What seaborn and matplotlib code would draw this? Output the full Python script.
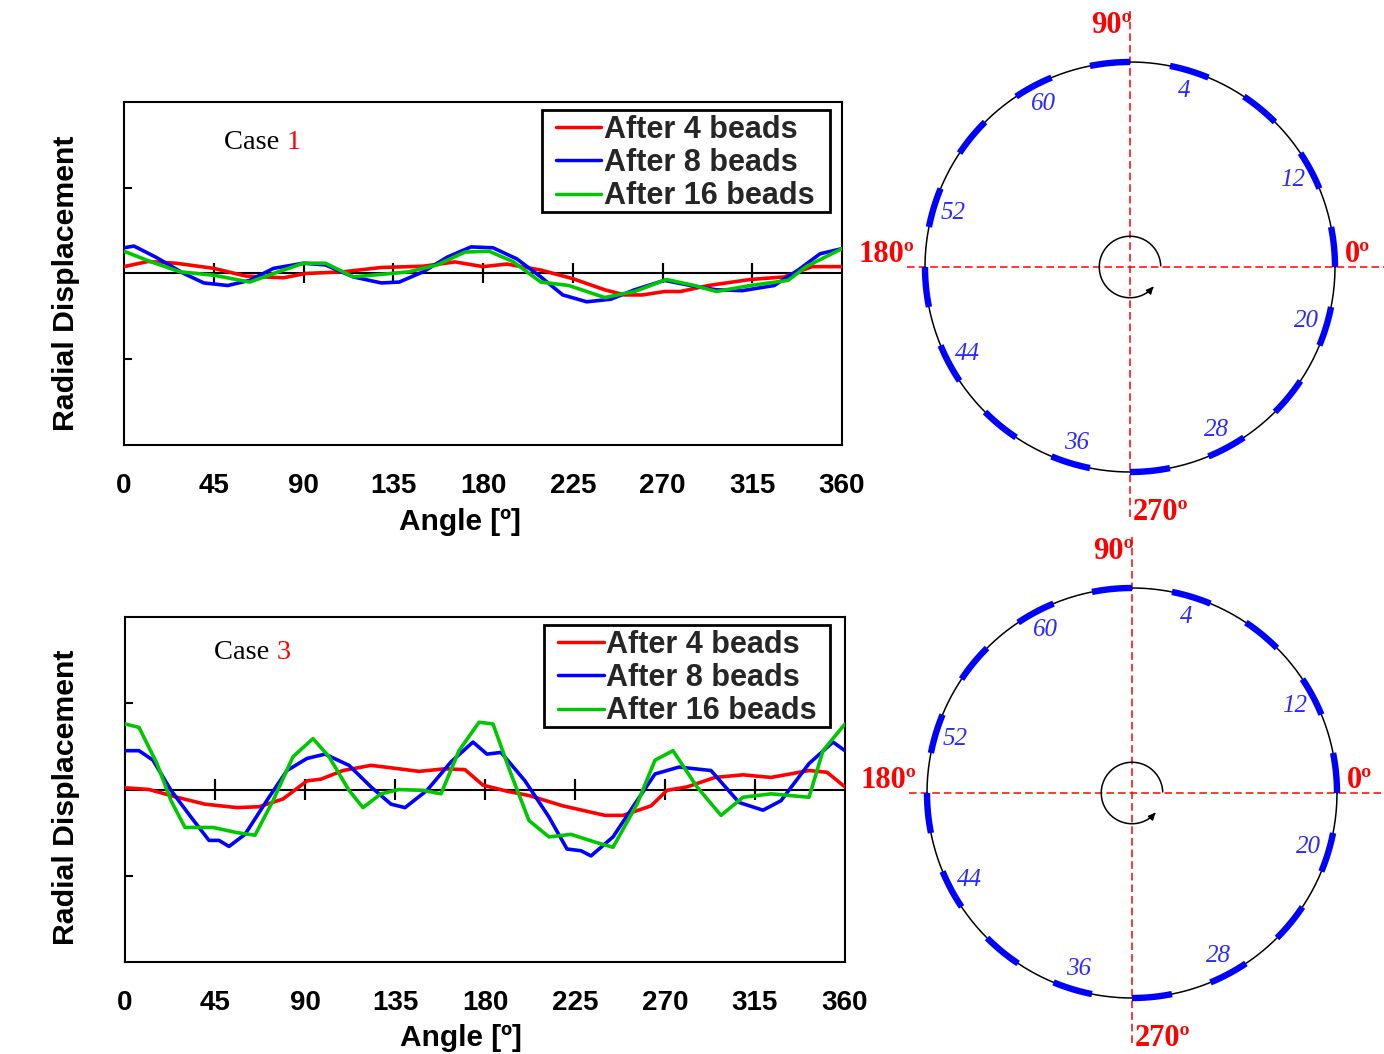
import numpy as np
import pandas as pd
import matplotlib
matplotlib.use("Agg")
import matplotlib.pyplot as plt
from matplotlib.lines import Line2D
from matplotlib.patches import Rectangle
from matplotlib.legend_handler import HandlerLine2D
import seaborn as sns

# ---------------- data ----------------
series_names = ["After 4 beads", "After 8 beads", "After 16 beads"]
series_colors = ["#ff0000", "#0000ff", "#00c800"]
angle_ticks = [0, 45, 90, 135, 180, 225, 270, 315, 360]
inner_ticks = [45, 90, 135, 180, 225, 270, 315]

# Case 1
c1_red_angle = [0, 12, 26, 45, 61, 80, 91, 110, 129, 150, 166, 180, 192, 209, 225, 241, 251, 260, 271, 279, 293, 314, 331, 345, 360]
c1_red_disp = [0.08, 0.14, 0.12, 0.06, -0.03, -0.05, 0.0, 0.02, 0.07, 0.085, 0.135, 0.08, 0.11, 0.04, -0.06, -0.19, -0.25, -0.25, -0.21, -0.21, -0.14, -0.07, -0.04, 0.08, 0.08]
c1_blue_angle = [0, 5, 16, 30, 40, 52, 63, 75, 90, 101, 115, 129, 138, 150, 162, 174, 185, 197, 209, 220, 232, 244, 256, 271, 284, 297, 310, 326, 338, 349, 360]
c1_blue_disp = [0.30, 0.32, 0.19, 0.0, -0.11, -0.14, -0.08, 0.06, 0.12, 0.10, -0.04, -0.11, -0.10, 0.02, 0.19, 0.31, 0.30, 0.17, -0.04, -0.25, -0.33, -0.30, -0.19, -0.08, -0.14, -0.19, -0.20, -0.14, 0.04, 0.23, 0.29]
c1_green_angle = [0, 12, 28, 45, 63, 75, 90, 101, 115, 129, 143, 157, 171, 183, 195, 209, 223, 241, 256, 272, 286, 297, 314, 333, 342, 360]
c1_green_disp = [0.26, 0.15, 0.02, -0.02, -0.10, 0.0, 0.12, 0.12, -0.04, -0.01, 0.02, 0.10, 0.25, 0.26, 0.14, -0.10, -0.14, -0.28, -0.21, -0.07, -0.14, -0.21, -0.14, -0.08, 0.08, 0.29]

# Case 3
c3_red_angle = [0, 12, 26, 40, 56, 67, 79, 91, 98, 109, 123, 137, 147, 160, 170, 179, 191, 202, 219, 240, 249, 263, 271, 281, 295, 309, 323, 342, 351, 360]
c3_red_disp = [0.02, 0.0, -0.09, -0.17, -0.21, -0.20, -0.11, 0.10, 0.12, 0.22, 0.28, 0.24, 0.21, 0.24, 0.23, 0.05, -0.02, -0.07, -0.19, -0.30, -0.30, -0.19, -0.01, 0.03, 0.14, 0.17, 0.14, 0.22, 0.20, 0.03]
c3_blue_angle = [0, 7, 14, 23, 33, 42, 47, 52, 60, 72, 81, 91, 100, 112, 123, 133, 140, 151, 163, 174, 181, 188, 200, 212, 221, 228, 233, 244, 256, 265, 277, 293, 307, 319, 328, 342, 354, 360]
c3_blue_disp = [0.45, 0.45, 0.34, -0.01, -0.32, -0.59, -0.59, -0.66, -0.52, -0.09, 0.22, 0.36, 0.41, 0.28, 0.03, -0.17, -0.21, -0.01, 0.32, 0.55, 0.41, 0.43, 0.10, -0.32, -0.69, -0.71, -0.77, -0.55, -0.13, 0.18, 0.26, 0.22, -0.15, -0.24, -0.13, 0.30, 0.55, 0.45]
c3_green_angle = [0, 7, 16, 23, 30, 44, 56, 65, 74, 84, 94, 102, 112, 119, 128, 137, 149, 158, 167, 177, 184, 193, 202, 212, 223, 235, 244, 256, 265, 274, 286, 298, 309, 323, 342, 349, 360]
c3_green_disp = [0.76, 0.72, 0.30, -0.13, -0.44, -0.44, -0.50, -0.53, -0.13, 0.38, 0.59, 0.38, -0.01, -0.21, -0.05, 0.0, -0.01, -0.05, 0.45, 0.78, 0.76, 0.18, -0.36, -0.55, -0.52, -0.61, -0.67, -0.17, 0.34, 0.45, 0.03, -0.30, -0.09, -0.05, -0.09, 0.45, 0.76]

# Welding bead sequence diagram
bead_arc_start = [0, 22.5, 45, 67.5, 90, 112.5, 135, 157.5, 180, 202.5, 225, 247.5, 270, 292.5, 315, 337.5]
bead_arc_span = 11.25
bead_label_numbers = [4, 12, 20, 28, 36, 44, 52, 60]
bead_label_angles = [73, 28, -17, -62, -107, -152, -197, -242]
direction_labels = ["0º", "90º", "180º", "270º"]

# ---------------- style ----------------
sns.set_theme(style="white")
plt.rcParams["font.family"] = ["Liberation Sans", "DejaVu Sans"]

W, H = 1384, 1054
fig = plt.figure(figsize=(W / 100, H / 100), dpi=100)


def px_axes(l, t, r, b):
    return fig.add_axes([l / W, 1 - b / H, (r - l) / W, (b - t) / H])


def make_df(angles, disps):
    frames = [pd.DataFrame({"Angle": a, "Disp": d, "Series": n})
              for n, a, d in zip(series_names, angles, disps)]
    return pd.concat(frames, ignore_index=True)


def line_panel(ax, df, leg_box, ylab_xy, xlab_xy):
    sns.lineplot(data=df, x="Angle", y="Disp", hue="Series", hue_order=series_names,
                 palette=dict(zip(series_names, series_colors)), estimator=None,
                 linewidth=2.6, ax=ax, zorder=3)
    ax.set_xlim(0, 360)
    ax.set_ylim(-2, 2)
    ax.axhline(0, color="black", lw=1.5, zorder=2)
    # ticks on the zero line
    sec = ax.secondary_xaxis(0.5)
    sec.set_xticks(inner_ticks)
    sec.tick_params(axis="x", direction="inout", length=14, width=1.5, color="black",
                    labelbottom=False, labeltop=False, bottom=True)
    for s in sec.spines.values():
        s.set_visible(False)
    ax.set_xticks(angle_ticks)
    ax.set_xticklabels([str(t) for t in angle_ticks], fontsize=20, fontweight="bold")
    ax.tick_params(axis="x", length=0, pad=20, colors="black")
    ax.set_yticks([-1, 1])
    ax.set_yticklabels([])
    ax.tick_params(axis="y", direction="in", length=6, width=1.5, left=True, color="black")
    for s in ax.spines.values():
        s.set_color("black")
        s.set_linewidth(1.5)
    ax.set_xlabel("Angle [º]", fontsize=21.5, fontweight="bold", color="black")
    ax.xaxis.set_label_coords(*xlab_xy)
    ax.set_ylabel("Radial Displacement", fontsize=21.8, fontweight="bold", color="black")
    ax.yaxis.set_label_coords(*ylab_xy)
    # legend frame
    x0, y0, x1, y1 = leg_box
    ax.add_patch(Rectangle((x0, y0), x1 - x0, y1 - y0, transform=ax.transAxes,
                           facecolor="white", edgecolor="black", lw=2, zorder=4))
    handles, labels = ax.get_legend_handles_labels()
    leg = ax.legend(handles, labels, loc="upper left", bbox_to_anchor=(x0, y1),
                    borderaxespad=0, frameon=False,
                    prop=dict(family="Liberation Sans", weight="bold", size=22),
                    handlelength=1.78, handletextpad=0.07, labelspacing=0.1, borderpad=0.17,
                    handler_map={Line2D: HandlerLine2D(xpad=0.3)})
    leg.set_zorder(6)
    for line in leg.get_lines():
        line.set_linewidth(2.5)
    return ax


def case_text(ax, xy, num):
    t1 = ax.text(xy[0], xy[1], "Case ", transform=ax.transAxes, fontsize=20.5,
                 family="Liberation Serif", color="black", ha="left", va="center")
    ax.annotate(str(num), xy=(1, 0), xycoords=t1, fontsize=20.5, family="Liberation Serif",
                color="red", ha="left", va="bottom")


ax1 = px_axes(124, 102, 842, 445)
line_panel(ax1, make_df([c1_red_angle, c1_blue_angle, c1_green_angle],
                        [c1_red_disp, c1_blue_disp, c1_green_disp]),
           (0.582, 0.679, 0.983, 0.977), (-0.061, 0.472), (0.468, -0.185))
case_text(ax1, (0.139, 0.883), 1)

ax2 = px_axes(125, 617, 845, 962)
line_panel(ax2, make_df([c3_red_angle, c3_blue_angle, c3_green_angle],
                        [c3_red_disp, c3_blue_disp, c3_green_disp]),
           (0.582, 0.681, 0.979, 0.977), (-0.062, 0.478), (0.467, -0.18))
case_text(ax2, (0.124, 0.896), 3)


def circle_panel(top, bottom, cx, cy, r=205.0):
    l, rr = 846, 1384
    ax = px_axes(l, top, rr, bottom)
    ax.set_xlim((l - cx) / r, (rr - cx) / r)
    ax.set_ylim((cy - bottom) / r, (cy - top) / r)
    ax.axis("off")
    ax.patch.set_alpha(0)
    th = np.linspace(0, 2 * np.pi, 500)
    ax.plot(np.cos(th), np.sin(th), color="black", lw=1.1, zorder=2)
    for a0 in bead_arc_start:
        t = np.radians(np.linspace(a0, a0 + bead_arc_span, 40))
        ax.plot(np.cos(t), np.sin(t), color="#0000ff", lw=4.6, solid_capstyle="butt", zorder=3)
    for n, a in zip(bead_label_numbers, bead_label_angles):
        ax.text(0.9 * np.cos(np.radians(a)), 0.9 * np.sin(np.radians(a)), str(n),
                ha="center", va="center", fontsize=18, fontstyle="italic",
                family="Liberation Serif", color="#2a2aff")
    ax.plot([0, 0], [-1.22, 1.25], color="red", lw=1.1, dashes=(5, 2.6), zorder=1)
    ax.plot([-1.09, 1.26], [0, 0], color="red", lw=1.1, dashes=(5, 2.6), zorder=1)
    # small rotation arrow
    rs = 0.15
    ta = np.radians(np.linspace(2, 318, 200))
    ax.plot(rs * np.cos(ta), rs * np.sin(ta), color="black", lw=1.1, zorder=4)
    e = np.radians(325)
    s = np.radians(312)
    ax.annotate("", xy=(rs * np.cos(e), rs * np.sin(e)), xytext=(rs * np.cos(s), rs * np.sin(s)),
                arrowprops=dict(arrowstyle="-|>", color="black", lw=1.1, mutation_scale=10))
    kw = dict(color="red", fontsize=22, fontweight="bold", family="Liberation Serif", va="center")
    ax.text(1.05, 0.06, direction_labels[0], ha="left", **kw)
    ax.text(0.01, 1.18, direction_labels[1], ha="right", **kw)
    ax.text(-1.05, 0.06, direction_labels[2], ha="right", **kw)
    ax.text(0.015, -1.2, direction_labels[3], ha="left", **kw)


circle_panel(0, 528, 1130, 267)
circle_panel(528, 1054, 1132, 793)

fig.savefig("out.png", dpi=100)
